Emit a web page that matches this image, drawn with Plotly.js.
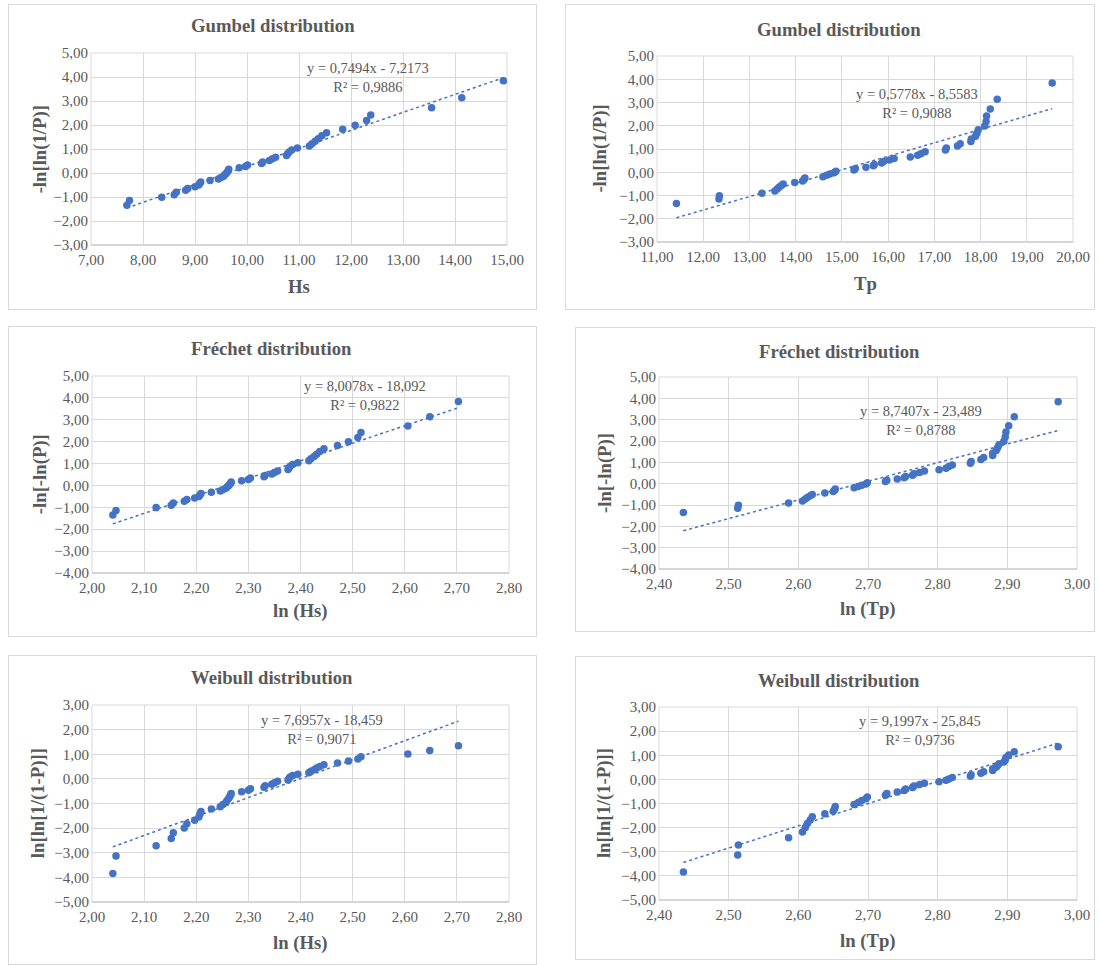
<!DOCTYPE html>
<html><head><meta charset="utf-8">
<script src="https://cdn.plot.ly/plotly-3.0.1.min.js"></script>
<style>
body{margin:0;background:#fff;width:1099px;height:965px;position:relative;overflow:hidden}
.p{position:absolute}
.b{position:absolute;border:1px solid #d9d9d9;box-sizing:border-box;pointer-events:none}
</style>
</head><body>
<script>
// ---- data ----
const hs = [7.69,7.74,8.36,8.60,8.64,8.82,8.86,9.00,9.07,9.09,9.11,9.29,9.45,9.50,9.55,9.57,9.60,9.62,9.64,9.65,9.85,9.97,10.01,10.28,10.30,10.43,10.49,10.55,10.76,10.78,10.81,10.86,10.97,11.20,11.25,11.31,11.37,11.44,11.53,11.84,12.08,12.30,12.38,13.55,14.13,14.93];
const lnHs = [2.040,2.046,2.123,2.152,2.156,2.177,2.182,2.197,2.205,2.207,2.209,2.229,2.246,2.251,2.257,2.259,2.262,2.264,2.266,2.267,2.287,2.300,2.304,2.330,2.332,2.345,2.350,2.356,2.376,2.378,2.380,2.385,2.395,2.416,2.420,2.426,2.431,2.437,2.445,2.471,2.492,2.510,2.516,2.606,2.648,2.703];
const tp = [11.42,12.34,12.35,13.27,13.55,13.60,13.64,13.69,13.73,13.98,14.15,14.18,14.20,14.59,14.67,14.74,14.83,14.87,15.26,15.29,15.52,15.68,15.70,15.86,15.90,16.03,16.13,16.48,16.64,16.71,16.80,17.24,17.26,17.50,17.56,17.79,17.80,17.89,17.92,17.95,18.09,18.12,18.13,18.21,18.36,19.55];
const lnTp = [2.435,2.513,2.514,2.586,2.606,2.610,2.613,2.617,2.620,2.638,2.650,2.652,2.653,2.680,2.686,2.691,2.697,2.699,2.725,2.727,2.742,2.752,2.754,2.764,2.766,2.774,2.781,2.802,2.812,2.816,2.821,2.847,2.848,2.862,2.866,2.879,2.879,2.884,2.886,2.888,2.895,2.897,2.898,2.902,2.910,2.973];
const gumbelY = [-1.348,-1.150,-1.012,-0.902,-0.807,-0.722,-0.644,-0.571,-0.503,-0.437,-0.373,-0.311,-0.251,-0.192,-0.133,-0.075,-0.017,0.041,0.099,0.157,0.216,0.276,0.336,0.397,0.460,0.524,0.590,0.658,0.728,0.801,0.877,0.956,1.039,1.128,1.221,1.322,1.430,1.549,1.679,1.825,1.991,2.185,2.420,2.719,3.135,3.839];
const weibullY = [-3.839,-3.135,-2.719,-2.420,-2.185,-1.991,-1.825,-1.679,-1.549,-1.430,-1.322,-1.221,-1.128,-1.039,-0.956,-0.877,-0.801,-0.728,-0.658,-0.590,-0.524,-0.460,-0.397,-0.336,-0.276,-0.216,-0.157,-0.099,-0.041,0.017,0.075,0.133,0.192,0.251,0.311,0.373,0.437,0.503,0.571,0.644,0.722,0.807,0.902,1.012,1.150,1.348];
const titles = ["Gumbel distribution","Gumbel distribution","Fréchet distribution","Fréchet distribution","Weibull distribution","Weibull distribution"];
const xTitles = ["Hs","Tp","ln (Hs)","ln (Tp)","ln (Hs)","ln (Tp)"];
const yTitles = ["-ln[ln(1/P)]","-ln[ln(1/P)]","-ln[-ln(P)]","-ln[-ln(P)]","ln[ln[1/(1-P)]]","ln[ln[1/(1-P)]]"];
const slopes = [0.7494,0.5778,8.0078,8.7407,7.6957,9.1997];
const intercepts = [-7.2173,-8.5583,-18.092,-23.489,-18.459,-25.845];
const eqTexts = ["y = 0,7494x - 7,2173","y = 0,5778x - 8,5583","y = 8,0078x - 18,092","y = 8,7407x - 23,489","y = 7,6957x - 18,459","y = 9,1997x - 25,845"];
const r2Texts = ["R² = 0,9886","R² = 0,9088","R² = 0,9822","R² = 0,8788","R² = 0,9071","R² = 0,9736"];
const xSeries = [hs, tp, lnHs, lnTp, lnHs, lnTp];
const ySeries = [gumbelY, gumbelY, gumbelY, gumbelY, weibullY, weibullY];

// ---- layout (pixel geometry) ----
const geo = [
 {box:{l:8,t:4,w:529,h:306}, plot:{x0:90.7,x1:507.3,y0:52.7,y1:245}, xr:[7,15], xd:1, yr:[-3,5], title:[273,25], xt:287, yt:40, eq:[368.5,77]},
 {box:{l:565,t:4,w:530,h:306}, plot:{x0:657.3,x1:1072.7,y0:55.7,y1:241.7}, xr:[11,20], xd:1, yr:[-3,5], title:[839,29], xt:283, yt:600, eq:[917,103]},
 {box:{l:8,t:326,w:529,h:311}, plot:{x0:92.3,x1:509,y0:375.7,y1:572.7}, xr:[2,2.8], xd:0.1, yr:[-4,5], title:[272,348], xt:611, yt:40, eq:[365.5,395]},
 {box:{l:575,t:327,w:520,h:305}, plot:{x0:659,x1:1076.7,y0:376.7,y1:569.3}, xr:[2.4,3.0], xd:0.1, yr:[-4,5], title:[839,351], xt:609, yt:605, eq:[921,420]},
 {box:{l:8,t:655,w:529,h:310}, plot:{x0:92.3,x1:509,y0:705,y1:902.3}, xr:[2,2.8], xd:0.1, yr:[-5,3], title:[272,677], xt:943, yt:38, eq:[322.5,729.5]},
 {box:{l:575,t:656,w:520,h:304}, plot:{x0:659.3,x1:1076.7,y0:707.3,y1:900}, xr:[2.4,3.0], xd:0.1, yr:[-5,3], title:[839,681], xt:941, yt:604, eq:[920,731]}
];

const FONT = "Liberation Serif, 'Times New Roman', serif";
const GREY = '#595959';
const BLUE = '#4472C4';

geo.forEach((g, i) => {
  const d = document.createElement('div');
  d.className = 'p';
  d.style.left = g.box.l + 'px'; d.style.top = g.box.t + 'px';
  d.style.width = g.box.w + 'px'; d.style.height = g.box.h + 'px';
  document.body.appendChild(d);
  const bd = document.createElement('div');
  bd.className = 'b';
  bd.style.left = g.box.l + 'px'; bd.style.top = g.box.t + 'px';
  bd.style.width = g.box.w + 'px'; bd.style.height = g.box.h + 'px';
  document.body.appendChild(bd);

  const P = g.plot;
  const px = x => (x - P.x0) / (P.x1 - P.x0);
  const py = y => (P.y1 - y) / (P.y1 - P.y0);
  const xs = xSeries[i], ys = ySeries[i];
  const xmin = Math.min(...xs), xmax = Math.max(...xs);
  const tx = [xmin, xmax];
  const ty = tx.map(v => slopes[i] * v + intercepts[i]);

  const traces = [
    {x: tx, y: ty, type: 'scatter', mode: 'lines', line: {color: BLUE, width: 1.5, dash: 'dot'}, hoverinfo: 'skip'},
    {x: xs, y: ys, type: 'scatter', mode: 'markers', marker: {color: BLUE, size: 7.5}, hoverinfo: 'skip'}
  ];
  const axisCommon = {
    showgrid: true, gridcolor: '#d9d9d9', gridwidth: 1, zeroline: false, showline: false,
    ticks: '', tickformat: '.2f', tickfont: {family: FONT, size: 15, color: GREY}, fixedrange: true
  };
  const layout = {
    width: g.box.w, height: g.box.h,
    margin: {l: P.x0 - g.box.l, r: g.box.l + g.box.w - P.x1, t: P.y0 - g.box.t, b: g.box.t + g.box.h - P.y1, pad: 0},
    paper_bgcolor: '#fff', plot_bgcolor: '#fff', showlegend: false, separators: ', ',
    xaxis: Object.assign({}, axisCommon, {range: g.xr, dtick: g.xd, tick0: g.xr[0], ticklabelstandoff: 4}),
    yaxis: Object.assign({}, axisCommon, {range: g.yr, dtick: 1, tick0: g.yr[0], ticklabelstandoff: 2}),
    shapes: [
      {type: 'rect', xref: 'paper', yref: 'paper', x0: 0, x1: 1, y0: 0, y1: 1, line: {color: '#d9d9d9', width: 1}, layer: 'below'},
      {type: 'line', xref: 'paper', yref: 'paper', x0: 0, x1: 1, y0: 0, y1: 0, line: {color: '#bfbfbf', width: 1}, layer: 'below'}
    ],
    annotations: [
      {text: '<b>' + titles[i] + '</b>', xref: 'paper', yref: 'paper', x: px(g.title[0]), y: py(g.title[1]),
       xanchor: 'center', yanchor: 'middle', showarrow: false, font: {family: FONT, size: 18.7, color: GREY}},
      {text: '<b>' + xTitles[i] + '</b>', xref: 'paper', yref: 'paper', x: 0.5, y: py(g.xt),
       xanchor: 'center', yanchor: 'middle', showarrow: false, font: {family: FONT, size: 18.7, color: GREY}},
      {text: '<b>' + yTitles[i] + '</b>', xref: 'paper', yref: 'paper', x: px(g.yt), y: 0.5, textangle: -90,
       xanchor: 'center', yanchor: 'middle', showarrow: false, font: {family: FONT, size: 18.7, color: GREY}},
      {text: eqTexts[i] + '<br>' + r2Texts[i], xref: 'paper', yref: 'paper', x: px(g.eq[0]), y: py(g.eq[1]),
       xanchor: 'center', yanchor: 'middle', align: 'center', showarrow: false, font: {family: FONT, size: 14.5, color: GREY}}
    ]
  };
  Plotly.newPlot(d, traces, layout, {staticPlot: true, displayModeBar: false});
});
</script>
</body></html>
